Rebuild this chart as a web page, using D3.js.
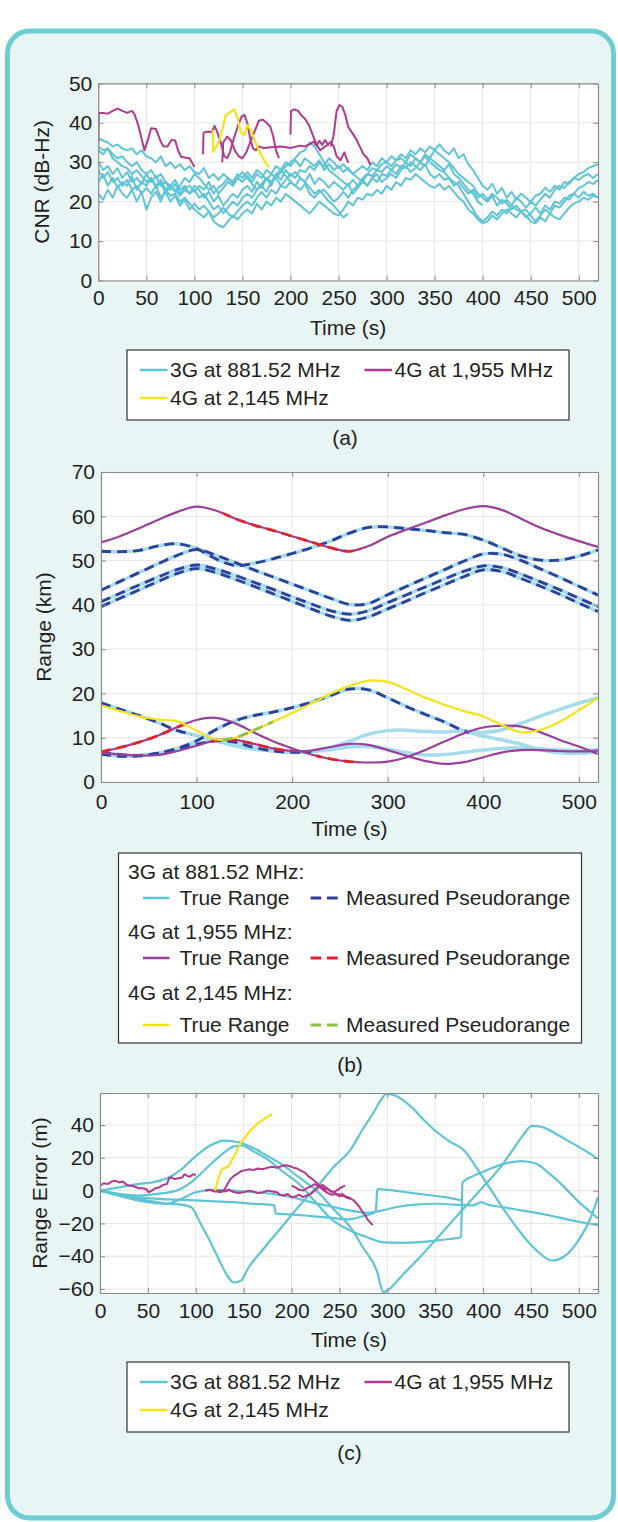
<!DOCTYPE html>
<html><head><meta charset="utf-8">
<script src="https://cdn.jsdelivr.net/npm/d3@7/dist/d3.min.js"></script>
<style>
html,body{margin:0;padding:0;background:#fff;}
svg{display:block;font-family:"Liberation Sans",Arial,Helvetica,sans-serif;}
</style></head><body>
<svg id="chart" width="618" height="1522"></svg>
<script>
// ---------------- DATA ----------------
// (a) CNR (dB-Hz), 3G traces sampled every cnrStep seconds from t = 0
const cnrStep = 5;
const cnr3g_1 = [36,35.5,35,34,34.5,33.5,33,33.5,32,33,31.5, 31,30,31.5,29,30,28.5,29.5,28,29,27.5, 27,28.5,26,27,25.5,27,26,24.5,26,25, 26.5,25,27,26,28,27,29,28,30,29, 30.5,29,31,30,29,30.5,28,29.5,28,29, 27.5,28.5,27,28,29,28,30,29,31,30, 31.5,30.5,32,31,33,32,33.5,32.5,34,33, 34.5,33,32,33.5,31,32,29.5,28,26,24, 23,24.5,22,23.5,21,22.5,20.5,22,21,20, 21.5,22,23.5,22.5,24,23,25,24.5,26,27, 27.5,28.5,29,29.5];
const cnr3g_2 = [34,33,33.5,32,31,31.5,30,29,30,28,27, 28,26,27,25,24,25.5,23,24,22,23, 21,22,20,18,19,17,18.5,20,19,21, 22,21,23,24,22.5,25,26,27.5,29,30, 31,32.5,33,35,34,32,30,28,27,26, 25,24,25.5,24,26,27,28.5,28,29.5,30, 29,30.5,31,30,32,31,30,31.5,30,29, 28,27.5,26,25,24,22,20,18,16,15, 16,17.5,16.5,18,17,19,18,17.5,16,17, 18.5,17,19,18,20,19.5,21,20.5,22,21, 22.5,21.5,22,21];
const cnr3g_3 = [30,28,29,27,28.5,26,27.5,25,26,24.5,27, 25,26.5,24,25,23,24.5,22,23.5,24,22.5, 24,23,25,22,23.5,24.5,26,25,27,26, 27.5,26,28,27,25.5,27,26,24,25.5,27, 26,28,27.5,29,28,30,29,31,30,28.5, 29.5,28,27,26,25,27,26.5,28,27.5,29, 28,29.5,28.5,30,29,31,30,32,31,33, 32,31,30,28.5,27,26,25,24,22,21, 20,21.5,19,20.5,19.5,18,19,17.5,18,16.5, 15,16.5,18,17,19,18.5,20,21.5,22,23.5, 24,25,24.5,25.5];
const cnr3g_4 = [25,27,24,26,23.5,25,24,26.5,23,25,24, 26,23.5,25,22,24,23,21.5,23,22,24, 23,21,22.5,20,21.5,19,20.5,22,21,23, 24,22.5,25,23.5,26,24,27,25.5,28,26.5, 27.5,26,25,27,24.5,26,25,23.5,25,24, 23,24.5,22,23.5,25,24,26,25,27,26.5, 28,27,29,28.5,30,29,28,29.5,27,26, 27,25.5,26,24,25,23.5,22,23,21,22, 20.5,22,21,19.5,20.5,19,21,20,18.5,20, 19,20.5,22,21,23,24,23.5,25,26,25.5, 26.5,27,26,27];
const cnr3g_5 = [22,20.5,23,21,24,22,21,23,20,22.5,18, 21,22.5,20,23,21.5,22,20,21,19.5,18, 17,16,17.5,15,14,13.5,15,16.5,15.5,17, 18,17,19.5,18,20,19,21,20,22,21, 20,19,18,17,18.5,20,19,18,17,16.5, 18,20,19,21,20.5,22,21.5,23,22,24, 23,25,24,26,25.5,27,26,25,24,23.5, 24.5,23,24,22.5,21,20,18,17,15.5,14.5, 15,16.5,15.5,17,18,17,16,17.5,16.5,15, 14.5,16,15,17,16,15.5,17,18.5,19.5,20, 21,20.5,21.5,21];
const cnr3g_6 = [33,32,33.5,31,30,29,28.5,27,28,26.5,25, 26,24,25.5,23,24,22.5,24,26,25,27, 26,24.5,23,24,22,23.5,25,24,26,27.5, 26,24.5,23,24.5,26,25,27,28,26.5,25, 24,23,24.5,22,21,22.5,23,21.5,20,21, 22.5,21,23,24,25.5,24,26,27,25,26, 27,26,28,29,27.5,28.5,30,29,31,30, 29,28,29.5,27,26,24.5,23,22,20,19];
const cnr3g_7 = [28,26,27.5,25,26,24,25.5,23,24,22,23.5, 22,24,21,22.5,20,21.5,19,20.5,18,19.5, 18,19,17.5,16,17,18.5,17,16,17.5,19, 20,19,21,22.5,21,23,22,24,23.5,25, 24,26,25,23.5,22,23,21.5,20,19,17.5, 16,17];
// 4G at 1,955 MHz CNR segments [time s, CNR]
const cnr4g1955_s1 = [[0,35],[0.5,42.5],[5,42.5],[10,42.3],[15,43],[20,43.6],[25,43],[30,42.5],[35,43],[38,42],[42,39],[48,33],[52,36],[55,38.6],[60,38.4],[65,35.2],[68,34],[72,34],[76,35.6],[80,35.5],[83,33],[86,31.4],[90,31.2],[95,31],[100,28.8]];
const cnr4g1955_s2 = [[109,32],[109.5,37.5],[114,37.8],[118,37.6],[121,39.2],[124,37.5],[128,34.5],[131,31.5],[134,31],[137,32.5],[141,36],[145,39],[149,41.5],[152,42],[155,40],[158,36],[161,33.5],[164,33],[167,34],[172,33.6],[180,33.8],[190,34],[200,33.6],[210,34.2],[215,34],[220,34.6],[224,35.2],[227,34.2],[230,35.4],[233,34.4],[236,35.6],[239,34.5],[242,35.2],[245,34],[248,31.5],[252,30.5],[256,32.5],[260,29.8]];
const cnr4g1955_s3 = [[129,30],[130,35],[134,36.5],[138,35.5],[142,33],[146,31.5],[150,31],[154,32.5],[158,35],[163,38],[167,40.5],[171,40.8],[175,40],[179,39],[182,36.5],[185,33],[188,31]];
const cnr4g1955_s4 = [[200,37],[200.5,43],[204,43.4],[208,43],[211,42],[215,41],[219,39.5],[223,37],[227,34.5],[231,33],[236,34],[240,34.5]];
const cnr4g1955_s5 = [[242,34],[245,37],[248,43],[251,44.5],[254,44],[257,42],[260,39],[264,37.5],[268,36],[272,34],[276,32],[280,31],[283,29.3]];
const cnr4g2145 = [[119,38.1],[119.5,32.6],[122.5,33.9],[126,35.6],[129.4,38.6],[132.8,42],[138,42.8],[141.5,43.4],[145,41.1],[148,37.7],[152,36.9],[155,39.4],[159,38.1],[162,36],[167,33],[172.5,30.5],[176,29.2],[178,28.8]];

// (b) Range (km) sampled at rangeT
const rangeT = [0,20,40,60,80,100,120,140,160,180,200,220,240,260,280,300,320,340,360,380,400,420,440,460,480,500,520];
const r3g_u1 = [52.1,52,52.3,53.3,53.8,52.7,50.4,48.9,49.4,50.4,51.6,52.9,54.4,56.2,57.5,57.6,57.2,56.8,56.3,55.9,54.6,52.8,51,50.1,50.1,51,52.4];
const r3g_u2 = [43.3,45.3,47.3,49.3,51.2,52.5,51.2,49.6,47.9,46.3,44.7,43.1,41.5,40.1,40.3,42.3,44.2,46.1,48,49.9,51.5,51.4,50,48.1,46.2,44.2,42.2];
const r3g_u3 = [40.7,42.6,44.5,46.3,48,49,48.1,46.7,45.1,43.5,41.8,40.2,38.7,37.9,38.7,40.5,42.3,44.1,45.9,47.6,48.8,48.4,46.9,45.2,43.4,41.5,39.6];
const r3g_u4 = [39.6,41.5,43.4,45.3,47.1,48.2,47.3,45.8,44.2,42.5,40.8,39.1,37.5,36.5,37.3,39.1,40.9,42.8,44.6,46.4,47.9,47.5,45.9,44.2,42.4,40.4,38.5];
const r3g_g1 = [6.8,6.2,6,6.5,7.6,9.3,11.8,13.8,15,15.8,16.8,18,19.5,21,20.8,19,17,15.2,13.5,11.5,10.4,9.5,8.5,7.3,6.6,6.5,6.8];
const r3g_g2 = [17.9,16.4,15,13.4,11.6,10.5,9.3,8.2,7.4,7,6.8,6.9,7.3,7.9,8,7.4,6.6,6.1,6.2,6.7,7.2,7.6,7.7,7.5,7.2,7.1,7.3];
const r3g_g3 = [6.3,5.8,5.9,6.5,7.4,8.5,9.3,9,7.8,7,6.7,6.8,7.8,9.2,10.8,11.6,11.7,11.4,11.3,11.6,11.2,11.8,13.3,14.9,16.4,17.8,19];
const r4g1955_top = [54.1,55.5,57.3,59.2,61,62.2,61.3,59.5,58,56.8,55.5,54.2,52.9,52.1,53.3,55.4,57,58.6,60.2,61.6,62.3,61.4,59.4,57.4,55.8,54.4,53.1];
const r4g1955_a = [6.8,7.8,9,10.5,12.4,14,14.5,13.3,11.2,9.2,7.6,6.2,5.2,4.6,4.4,4.6,5.6,7.3,9.2,11,12.3,12.7,12.5,11.2,9.5,8,6.3];
const r4g1955_b = [6.6,6.2,6,6.1,7,8.2,9.4,9.5,8.6,7.6,7,7.1,7.9,8.6,8.4,7.2,5.9,4.7,4.1,4.5,5.6,6.7,7.2,7.2,7,6.9,7.1];
const r4g2145 = [17.3,16,14.8,14.1,13.7,11.6,9.6,10,11.7,13.6,15.6,17.7,19.9,21.7,22.9,22.6,20.9,19,17.4,16,14.8,12.8,11.2,11.8,13.6,16.2,19];
// time spans (s) with a measured pseudorange
const meas3g = [[r3g_u1,[[0,520]]],[r3g_u2,[[0,520]]],[r3g_u3,[[0,520]]],[r3g_u4,[[0,520]]],[r3g_g1,[[0,385]]],[r3g_g2,[[0,95]]],[r3g_g3,[[0,220]]]];
const meas4g1955 = [[r4g1955_top,[[128,272]]],[r4g1955_a,[[0,95],[225,270]]],[r4g1955_b,[[110,200]]]];
const meas4g2145 = [[r4g2145,[[120,180]]]];

// (c) Range error (m) [time s, error m]
const err3g_a = [[0,0],[25,-3],[50,-6],[70,-8],[85,-8.5],[95,-10],[105,-20],[115,-31],[125,-43],[133,-52],[140,-56],[147,-55],[155,-47],[170,-36],[190,-22],[210,-8],[226,2],[245,15],[261,24.4],[275,38],[285,47],[293,55],[299,59],[310,57.5],[325,51],[340,42],[350,36.5],[365,30],[381,24],[392,15],[402,6],[420,-10],[437,-24],[455,-36],[472,-42.6],[485,-40],[500,-30],[512,-17],[520,-4]];
const err3g_b = [[0,0],[20,2],[40,4],[55,5],[70,7.5],[85,13],[100,21],[115,27.5],[130,30.5],[145,29.5],[160,26],[175,21],[190,16],[208,8],[226,0],[245,-12],[261,-22],[275,-35],[289,-48.7],[296,-62],[302,-60],[315,-52],[335,-40],[355,-27],[375,-14],[395,-1],[415,12],[430,24],[442,34],[451,39.5],[460,39],[475,35],[490,30],[505,25],[520,19.3]];
const err3g_c = [[0,0],[20,-2],[40,-3],[60,-2],[80,0],[95,5],[110,13],[125,21],[140,27],[148,27.5],[160,24],[175,19],[190,12],[208,4],[225,-7],[243,-18],[260,-24],[279,-28.4],[296,-31.5],[315,-31.8],[331,-31.5],[350,-30.5],[365,-29.5],[377,-28.4],[378.5,5],[390,9],[402,12],[420,16],[440,18],[455,16.5],[470,10],[485,2],[500,-7],[510,-12],[520,-17]];
const err3g_d = [[0,0],[20,-2.5],[40,-4],[60,-5],[80,-5.5],[100,-6],[120,-6.5],[140,-7],[160,-8],[182,-9],[183.5,-14],[200,-14.5],[220,-15.5],[240,-16.5],[260,-17.5],[275,-15.5],[288,-13],[289.5,1],[300,0.5],[320,-1],[340,-2.5],[360,-4],[378,-6]];
const err3g_e = [[0,0],[25,-4],[50,-7],[70,-8],[85,-5],[100,-1],[120,0.5],[140,0],[160,-1],[180,-2],[200,-4],[220,-7],[240,-9.5],[260,-12],[280,-13.5],[295,-12],[310,-10],[330,-8.5],[350,-8],[370,-8.5],[390,-9],[398,-7],[402,-8],[420,-10],[440,-12],[460,-14],[480,-16.5],[500,-19],[520,-21]];
const err4g1955_1 = [[0,3],[4,4.5],[8,4],[12,5.5],[16,6],[20,5],[24,5.5],[28,3.5],[32,3],[36,2.5],[40,1.5],[44,1.5],[48,1],[51,-1],[54,0],[58,1.5],[62,2],[66,3.5],[70,4],[72,7.5],[75,8],[78,7],[82,7.5],[86,8],[88,10],[91,9],[94,8.5],[97,10],[100,9.5]];
const err4g1955_2 = [[110,0],[114,0.5],[118,0],[122,-0.5],[126,-1],[129,0],[131,1.5],[133,4],[136,7],[140,9],[144,10.5],[148,12],[152,12.5],[156,13],[160,12.5],[165,13.5],[170,13],[175,14],[180,14.5],[185,14],[190,15],[194,15.5],[198,15],[202,14],[206,13.5],[210,12],[214,11],[218,8.5],[222,7],[226,5],[229,3],[232,2],[235,0.5],[238,1],[241,-0.5],[244,-1],[247,-2],[250,-2.5],[253,-2],[256,-3.5],[259,-4],[262,-5],[265,-6],[268,-8],[271,-10],[274,-13],[277,-15],[280,-18],[283,-20],[285,-21]];
const err4g1955_3 = [[110,0],[115,0.5],[120,-0.5],[125,0],[130,-0.5],[135,0.5],[140,-1],[145,-1.5],[150,-1],[155,0],[160,-0.5],[165,-1.5],[170,-1],[175,0],[180,-0.5],[185,-1],[188,-2.5],[192,-3],[196,-2],[200,-4],[204,-3.5],[208,-2.5],[212,-4],[216,-3],[220,-2],[224,0],[228,2],[232,3.5],[235,2.5]];
const err4g1955_4 = [[200,3],[204,2],[208,0.5],[212,0],[216,1.5],[220,2.5],[224,4],[228,3],[232,1.5],[236,2],[240,0],[244,-1],[248,0.5],[252,2],[256,3]];
const err4g1955_5 = [[226,4],[230,2],[234,0],[238,-1.5],[242,-2.5],[246,-2],[250,-3.5],[254,-3],[258,-4.5],[262,-5]];
const err4g2145 = [[120,0],[122,4],[124,8],[127,13],[131,14],[134,14.5],[137,18],[141,22],[145,27],[148,30],[152,33],[156,36],[161,39],[166,41.5],[171,43.5],[176,45.5],[180,46.5]];

// tick values / labels
const xTicksA = [0,50,100,150,200,250,300,350,400,450,500];
const yTicksA = [0,10,20,30,40,50];
const xTicksB = [0,100,200,300,400,500];
const yTicksB = [0,10,20,30,40,50,60,70];
const xTicksC = [0,50,100,150,200,250,300,350,400,450,500];
const yTicksC = [-60,-40,-20,0,20,40];
const legendSimple = ["3G at 881.52 MHz","4G at 1,955 MHz","4G at 2,145 MHz"];
const legendB = ["3G at 881.52 MHz:","4G at 1,955 MHz:","4G at 2,145 MHz:"];

// ---------------- STYLE ----------------
const C3G = "#5ec4d6", CM = "#b23a8e", CY = "#f2e31c";
const C3Gl = "#a4dcec", CBLUE = "#2f409b", CPUR = "#9a409c", CRED = "#e3232b", CGRN = "#8cc540";
const TXT = "#231f20", FS = 21;

const svg = d3.select("#chart");
svg.append("rect").attr("x",7.5).attr("y",31).attr("width",606).attr("height",1487).attr("rx",22)
  .attr("fill","#e8f5f5").attr("stroke","#6dcdd0").attr("stroke-width",5);

let clipN = 0;
function panel(L,R,T,B,xd,yd,xt,yt,ylabel,ylx,xlabPad){
  const x = d3.scaleLinear().domain(xd).range([L,R]);
  const y = d3.scaleLinear().domain(yd).range([B,T]);
  const g = svg.append("g");
  g.append("rect").attr("x",L).attr("y",T).attr("width",R-L).attr("height",B-T).attr("fill","#fff");
  g.selectAll(null).data(xt).join("line").attr("x1",d=>x(d)).attr("x2",d=>x(d)).attr("y1",T).attr("y2",B)
    .attr("stroke","#e6e6e6").attr("stroke-width",1);
  g.selectAll(null).data(yt).join("line").attr("y1",d=>y(d)).attr("y2",d=>y(d)).attr("x1",L).attr("x2",R)
    .attr("stroke","#e6e6e6").attr("stroke-width",1);
  const id = "clip"+(clipN++);
  svg.append("clipPath").attr("id",id).append("rect").attr("x",L).attr("y",T).attr("width",R-L).attr("height",B-T);
  const data = svg.append("g").attr("clip-path",`url(#${id})`);
  const ax = svg.append("g");
  const fmt = d3.format("d");
  ax.append("g").attr("transform",`translate(0,${B})`).call(d3.axisBottom(x).tickValues(xt).tickSize(-5).tickSizeOuter(0).tickPadding(xlabPad).tickFormat(fmt));
  ax.append("g").attr("transform",`translate(0,${T})`).call(d3.axisTop(x).tickValues(xt).tickSize(-5).tickSizeOuter(0).tickFormat(""));
  ax.append("g").attr("transform",`translate(${L},0)`).call(d3.axisLeft(y).tickValues(yt).tickSize(-5).tickSizeOuter(0).tickPadding(6).tickFormat(fmt));
  ax.append("g").attr("transform",`translate(${R},0)`).call(d3.axisRight(y).tickValues(yt).tickSize(-5).tickSizeOuter(0).tickFormat(""));
  ax.selectAll("path.domain").attr("stroke","#8a8a8a").attr("stroke-width",1.2);
  ax.selectAll(".tick line").attr("stroke","#8a8a8a").attr("stroke-width",1);
  ax.selectAll("g").attr("font-family",null).attr("font-size",FS);
  ax.selectAll(".tick text").attr("fill",TXT);
  svg.append("text").attr("x",(L+R)/2).attr("y",B+47).attr("dy","0.35em").attr("text-anchor","middle")
    .attr("font-size",FS).attr("fill",TXT).text("Time (s)");
  svg.append("text").attr("transform",`translate(${ylx},${(T+B)/2}) rotate(-90)`).attr("dy","0.35em")
    .attr("text-anchor","middle").attr("font-size",FS).attr("fill",TXT).text(ylabel);
  return {x,y,data};
}

function caption(txt,cx,cy){
  svg.append("text").attr("x",cx).attr("y",cy).attr("dy","0.35em").attr("text-anchor","middle")
    .attr("font-size",FS).attr("fill",TXT).text(txt);
}

function legendSimpleBox(top){
  const g = svg.append("g");
  g.append("rect").attr("x",127).attr("y",top).attr("width",442).attr("height",70).attr("fill","#fff").attr("stroke","#333").attr("stroke-width",1.2);
  const items = [[C3G,140,top+20],[CM,364.5,top+20],[CY,140,top+48]];
  items.forEach((it,i)=>{
    g.append("line").attr("x1",it[1]).attr("x2",it[1]+27.5).attr("y1",it[2]).attr("y2",it[2]).attr("stroke",it[0]).attr("stroke-width",2.5);
    g.append("text").attr("x",it[1]+30).attr("y",it[2]).attr("dy","0.35em").attr("font-size",FS).attr("fill",TXT).text(legendSimple[i]);
  });
}

// ---------------- PANEL (a) ----------------
{
  const p = panel(98.3,598,83.3,280.5,[0,520],[0,50],xTicksA,yTicksA,"CNR (dB-Hz)",42,10);
  const line = d3.line().x((d,i)=>p.x(i*cnrStep)).y(d=>p.y(d));
  [cnr3g_1,cnr3g_2,cnr3g_3,cnr3g_4,cnr3g_5,cnr3g_6,cnr3g_7].forEach(s=>{
    p.data.append("path").attr("d",line(s)).attr("fill","none").attr("stroke",C3G).attr("stroke-width",2).attr("stroke-linejoin","round");
  });
  const lp = d3.line().x(d=>p.x(d[0])).y(d=>p.y(d[1]));
  [cnr4g1955_s1,cnr4g1955_s2,cnr4g1955_s3,cnr4g1955_s4,cnr4g1955_s5].forEach(s=>{
    p.data.append("path").attr("d",lp(s)).attr("fill","none").attr("stroke",CM).attr("stroke-width",2).attr("stroke-linejoin","round");
  });
  p.data.append("path").attr("d",lp(cnr4g2145)).attr("fill","none").attr("stroke",CY).attr("stroke-width",2.2).attr("stroke-linejoin","round");
  legendSimpleBox(350);
  caption("(a)",345,438);
}

// ---------------- PANEL (b) ----------------
{
  const p = panel(101,598,472,782,[0,520],[0,70],xTicksB,yTicksB,"Range (km)",44,12);
  const line = d3.line().x((d,i)=>p.x(rangeT[i])).y(d=>p.y(d)).curve(d3.curveCatmullRom.alpha(0.5));
  let mc = 0;
  function measured(list,color){
    list.forEach(([s,spans])=>{
      spans.forEach(([a,b])=>{
        const id = "mclip"+(mc++);
        svg.append("clipPath").attr("id",id).append("rect").attr("x",p.x(a)).attr("y",472).attr("width",p.x(b)-p.x(a)).attr("height",310);
        p.data.append("path").attr("d",line(s)).attr("clip-path",`url(#${id})`).attr("fill","none")
          .attr("stroke",color).attr("stroke-width",2.8).attr("stroke-dasharray","10,6");
      });
    });
  }
  [r3g_u1,r3g_u2,r3g_u3,r3g_u4,r3g_g1,r3g_g2,r3g_g3].forEach(s=>{
    p.data.append("path").attr("d",line(s)).attr("fill","none").attr("stroke",C3Gl).attr("stroke-width",3.5);
  });
  measured(meas3g,CBLUE);
  [r4g1955_top,r4g1955_a,r4g1955_b].forEach(s=>{
    p.data.append("path").attr("d",line(s)).attr("fill","none").attr("stroke",CPUR).attr("stroke-width",2.2);
  });
  measured(meas4g1955,CRED);
  p.data.append("path").attr("d",line(r4g2145)).attr("fill","none").attr("stroke",CY).attr("stroke-width",2.2);
  measured(meas4g2145,CGRN);

  // legend (b)
  const g = svg.append("g");
  g.append("rect").attr("x",118.5).attr("y",853).attr("width",463).attr("height",190).attr("fill","#fff").attr("stroke","#333").attr("stroke-width",1.2);
  const heads = [871.7,931.7,993], rows = [898,958,1025];
  const cols = [[C3Gl,CBLUE],[CPUR,CRED],[CY,CGRN]];
  heads.forEach((hy,i)=>{
    g.append("text").attr("x",128).attr("y",hy).attr("dy","0.35em").attr("font-size",FS).attr("fill",TXT).text(legendB[i]);
    const ry = rows[i];
    g.append("line").attr("x1",143).attr("x2",169.5).attr("y1",ry).attr("y2",ry).attr("stroke",i===0?C3G:cols[i][0]).attr("stroke-width",2.5);
    g.append("text").attr("x",179.4).attr("y",ry).attr("dy","0.35em").attr("font-size",FS).attr("fill",TXT).text("True Range");
    g.append("line").attr("x1",310.6).attr("x2",338).attr("y1",ry).attr("y2",ry).attr("stroke",cols[i][1]).attr("stroke-width",2.8).attr("stroke-dasharray","10.7,5.7");
    g.append("text").attr("x",346).attr("y",ry).attr("dy","0.35em").attr("font-size",FS).attr("fill",TXT).text("Measured Pseudorange");
  });
  caption("(b)",350,1065);
}

// ---------------- PANEL (c) ----------------
{
  const p = panel(100,598,1093,1293,[0,520],[-62.4,59.5],xTicksC,yTicksC,"Range Error (m)",40,10);
  const smooth = d3.line().x(d=>p.x(d[0])).y(d=>p.y(d[1])).curve(d3.curveMonotoneX);
  const lin = d3.line().x(d=>p.x(d[0])).y(d=>p.y(d[1]));
  [err3g_a,err3g_b,err3g_c,err3g_d,err3g_e].forEach(s=>{
    p.data.append("path").attr("d",smooth(s)).attr("fill","none").attr("stroke",C3G).attr("stroke-width",2.2);
  });
  [err4g1955_1,err4g1955_2,err4g1955_3,err4g1955_4,err4g1955_5].forEach(s=>{
    p.data.append("path").attr("d",lin(s)).attr("fill","none").attr("stroke",CM).attr("stroke-width",2).attr("stroke-linejoin","round");
  });
  p.data.append("path").attr("d",lin(err4g2145)).attr("fill","none").attr("stroke",CY).attr("stroke-width",2.2);
  legendSimpleBox(1362);
  caption("(c)",349.5,1453);
}
</script></body></html>
